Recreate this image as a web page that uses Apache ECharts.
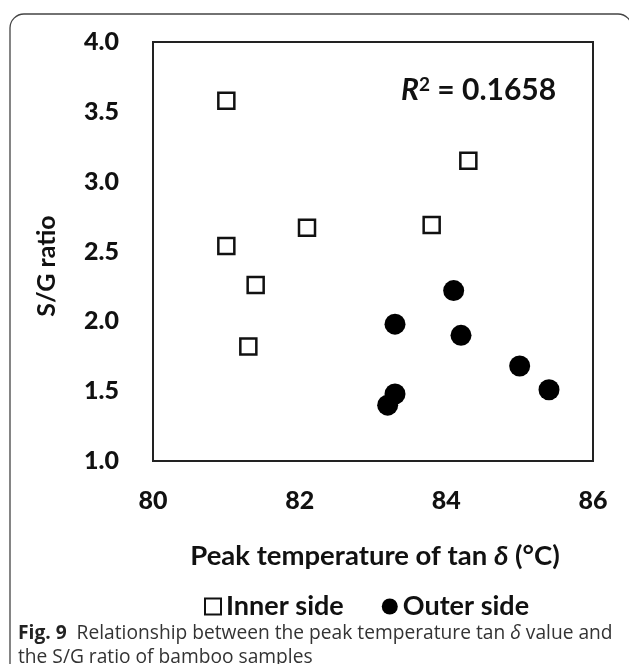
<!DOCTYPE html>
<html>
<head>
<meta charset="utf-8">
<script src="https://cdn.jsdelivr.net/npm/echarts@6/dist/echarts.min.js"></script>
<style>
html,body{margin:0;padding:0;background:#fff;}
#chart{width:629px;height:664px;}
</style>
</head>
<body>
<div id="chart"></div>
<script>
// Data
const innerTemp = [81.0, 82.1, 81.0, 81.4, 81.3, 84.3, 83.8];
const innerSG   = [3.58, 2.67, 2.54, 2.26, 1.82, 3.15, 2.69];
const outerTemp = [84.1, 83.3, 84.2, 85.0, 85.4, 83.3, 83.2];
const outerSG   = [2.22, 1.98, 1.90, 1.68, 1.51, 1.48, 1.40];
const seriesNames = ['Inner side', 'Outer side'];
const r2Value = '0.1658';
const xTitle = 'Peak temperature of tan ';
const yTitle = 'S/G ratio';
const captionLabel = 'Fig. 9';
const captionLine1 = 'Relationship between the peak temperature tan ';
const captionLine1b = ' value and';
const captionLine2 = 'the S/G ratio of bamboo samples';

const FONT = 'Lato';
const chart = echarts.init(document.getElementById('chart'), null, {renderer: 'canvas'});

const zip = (a, b) => a.map((v, i) => [v, b[i]]);

chart.setOption({
  animation: false,
  backgroundColor: '#fff',
  grid: {
    left: 153, top: 42, width: 440, height: 419,
    show: true, borderColor: '#222', borderWidth: 2, backgroundColor: 'transparent'
  },
  xAxis: {
    type: 'value', min: 80, max: 86, interval: 2,
    axisLine: {show: false}, axisTick: {show: false}, splitLine: {show: false},
    axisLabel: {color: '#111', fontFamily: FONT, fontWeight: 900, fontSize: 25, margin: 27}
  },
  yAxis: {
    type: 'value', min: 1, max: 4, interval: 0.5,
    axisLine: {show: false}, axisTick: {show: false}, splitLine: {show: false},
    axisLabel: {color: '#111', fontFamily: FONT, fontWeight: 900, fontSize: 25, margin: 34,
      formatter: v => v.toFixed(1)}
  },
  legend: {
    left: 199, top: 588, itemWidth: 16, itemHeight: 16, itemGap: 38,
    textStyle: {color: '#111', fontFamily: FONT, fontWeight: 'bold', fontSize: 27},
    data: [
      {name: seriesNames[0], icon: 'rect', itemStyle: {color: '#fff', borderColor: '#111', borderWidth: 2}},
      {name: seriesNames[1], icon: 'circle', itemStyle: {color: '#000'}}
    ]
  },
  series: [
    {
      name: seriesNames[0], type: 'scatter', symbol: 'rect', symbolSize: 16,
      itemStyle: {color: '#fff', borderColor: '#111', borderWidth: 2.5, opacity: 1},
      data: zip(innerTemp, innerSG)
    },
    {
      name: seriesNames[1], type: 'scatter', symbol: 'circle', symbolSize: 21,
      itemStyle: {color: '#000', opacity: 1},
      data: zip(outerTemp, outerSG)
    }
  ],
  graphic: [
    {
      type: 'rect', silent: true,
      shape: {x: 10, y: 14, width: 622, height: 664, r: 14},
      style: {fill: null, stroke: '#444', lineWidth: 1.3}
    },
    {
      type: 'text', left: 401, top: 75,
      style: {
        text: '{r|R}{s|2}{n| = ' + r2Value + '}',
        rich: {
          r: {fontFamily: FONT, fontWeight: 'bold', fontStyle: 'italic', fontSize: 30, fill: '#111'},
          s: {fontFamily: FONT, fontWeight: 'bold', fontSize: 19, fill: '#111', verticalAlign: 'top', padding: [0, 0, 12, 0]},
          n: {fontFamily: FONT, fontWeight: 'bold', fontSize: 30, fill: '#111'}
        }
      }
    },
    {
      type: 'text', x: 47, y: 266, rotation: Math.PI / 2,
      style: {
        text: yTitle, fontFamily: FONT, fontWeight: 'bold', fontSize: 25, fill: '#111',
        align: 'center', verticalAlign: 'middle'
      }
    },
    {
      type: 'text', x: 375, y: 556,
      style: {
        text: '{a|' + xTitle + '}{d|δ}{a| (°C)}',
        align: 'center', verticalAlign: 'middle',
        rich: {
          a: {fontFamily: FONT, fontWeight: 'bold', fontSize: 27.5, fill: '#111'},
          d: {fontFamily: FONT, fontWeight: 'bold', fontStyle: 'italic', fontSize: 27.5, fill: '#111'}
        }
      }
    },
    {
      type: 'text', left: 18, top: 622,
      style: {
        text: '{b|' + captionLabel + '}{t|  ' + captionLine1 + '}{i|δ}{t|' + captionLine1b + '}\n{t|' + captionLine2 + '}',
        lineHeight: 24,
        rich: {
          b: {fontFamily: 'Open Sans', fontWeight: 'bold', fontSize: 19.2, fill: '#222', lineHeight: 24},
          t: {fontFamily: 'Open Sans', fontSize: 19.2, fill: '#333', lineHeight: 24},
          i: {fontFamily: 'Open Sans', fontStyle: 'italic', fontSize: 19.2, fill: '#333', lineHeight: 24}
        }
      }
    }
  ]
});
</script>
</body>
</html>
